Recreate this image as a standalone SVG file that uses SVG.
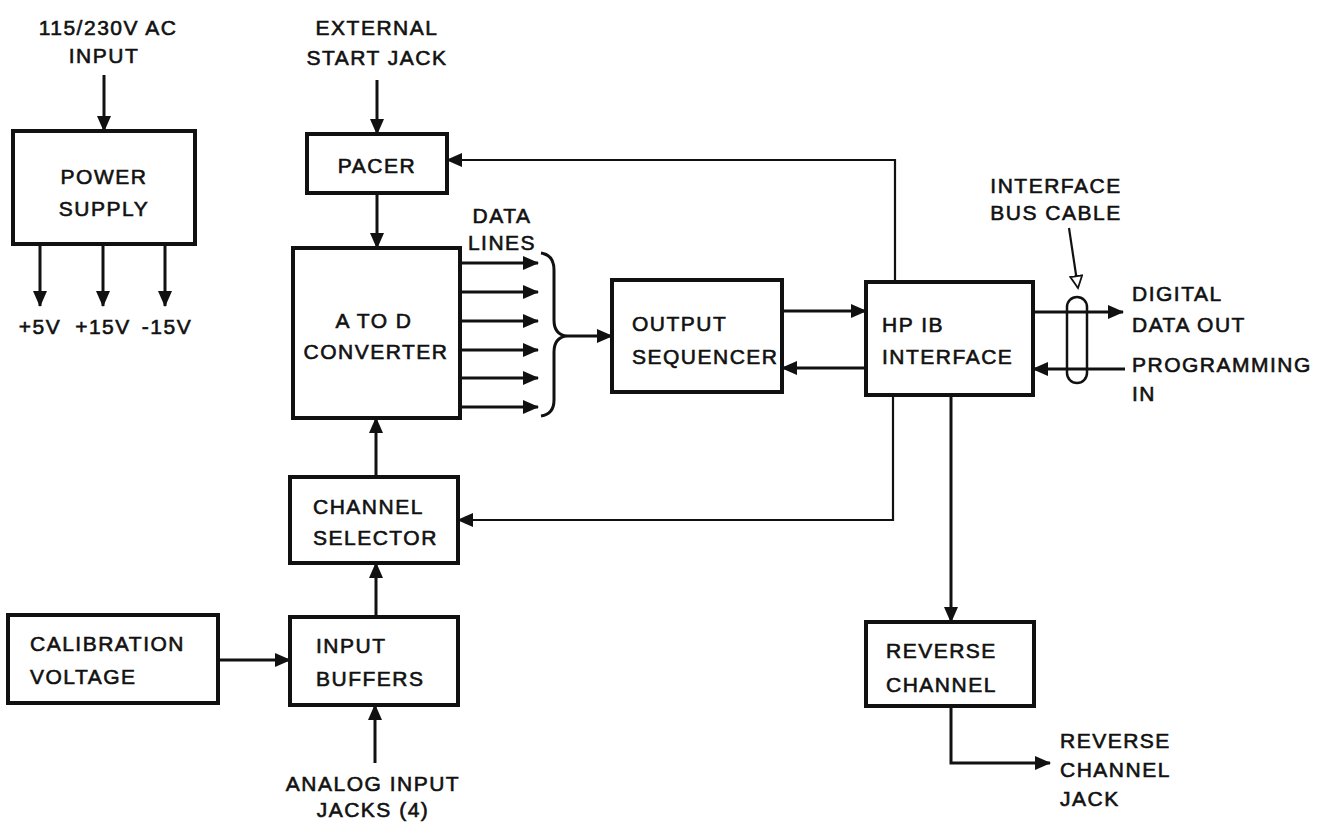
<svg xmlns="http://www.w3.org/2000/svg" width="1341" height="829" viewBox="0 0 1341 829">
<defs>
<marker id="ah" markerUnits="userSpaceOnUse" markerWidth="18" markerHeight="16" refX="15" refY="8" orient="auto">
<path d="M0,1 L16,8 L0,15 Z" fill="#111"/>
</marker>
<marker id="hollow" markerUnits="userSpaceOnUse" markerWidth="16" markerHeight="14" refX="13" refY="7" orient="auto">
<path d="M1,1 L13,7 L1,13 Z" fill="#fff" stroke="#111" stroke-width="1.8"/>
</marker>
<style>
rect.box{fill:#fff;stroke:#111;stroke-width:4}
text{font-family:"Liberation Sans",Arial,sans-serif;font-size:21px;fill:#111;stroke:#111;stroke-width:0.6px;letter-spacing:1.5px}
.c{text-anchor:middle}
.conn line,.conn path,.conn polyline{fill:none;stroke:#111;stroke-width:3}
.thin{stroke-width:2.2 !important}
</style>
</defs>
<rect width="1341" height="829" fill="#fff"/>
<g class="conn">
<line x1="104" y1="75" x2="104" y2="131" marker-end="url(#ah)"/>
<line x1="40" y1="244" x2="40" y2="306" marker-end="url(#ah)"/>
<line x1="103" y1="244" x2="103" y2="306" marker-end="url(#ah)"/>
<line x1="165" y1="244" x2="165" y2="306" marker-end="url(#ah)"/>
<line x1="377" y1="80" x2="377" y2="134" marker-end="url(#ah)"/>
<line x1="377" y1="193" x2="377" y2="248" marker-end="url(#ah)"/>
<polyline class="thin" points="895,282 895,160 447,160" marker-end="url(#ah)"/>
<line x1="460" y1="263" x2="538" y2="263" marker-end="url(#ah)"/>
<line x1="460" y1="292" x2="538" y2="292" marker-end="url(#ah)"/>
<line x1="460" y1="321" x2="538" y2="321" marker-end="url(#ah)"/>
<line x1="460" y1="350" x2="538" y2="350" marker-end="url(#ah)"/>
<line x1="460" y1="378" x2="538" y2="378" marker-end="url(#ah)"/>
<line x1="460" y1="407" x2="538" y2="407" marker-end="url(#ah)"/>
<path d="M541,253 Q554,255 554,270 L554,320 Q554,334 566,336 Q554,338 554,352 L554,400 Q554,414 541,416"/>
<line x1="566" y1="336" x2="612" y2="336" marker-end="url(#ah)"/>
<line x1="782" y1="311" x2="866" y2="311" marker-end="url(#ah)"/>
<line x1="866" y1="368" x2="782" y2="368" marker-end="url(#ah)"/>
<line x1="1033" y1="312" x2="1123" y2="312" marker-end="url(#ah)"/>
<line x1="1125" y1="369" x2="1033" y2="369" marker-end="url(#ah)"/>
<line class="thin" x1="1069" y1="228" x2="1078" y2="288" marker-end="url(#hollow)"/>
<polyline class="thin" points="893,395 893,520 458,520" marker-end="url(#ah)"/>
<line x1="951" y1="395" x2="951" y2="622" marker-end="url(#ah)"/>
<polyline points="951,706 951,763 1050,763" marker-end="url(#ah)"/>
<line x1="376" y1="477" x2="376" y2="418" marker-end="url(#ah)"/>
<line x1="376" y1="617" x2="376" y2="563" marker-end="url(#ah)"/>
<line x1="218" y1="660" x2="290" y2="660" marker-end="url(#ah)"/>
<line x1="375" y1="763" x2="375" y2="705" marker-end="url(#ah)"/>
</g>
<rect x="1067" y="297" width="20" height="86" rx="10" fill="none" stroke="#111" stroke-width="2.5"/>
<g id="power-supply"><rect class="box" x="13" y="131" width="182" height="113"/><text class="c" x="104" y="184">POWER</text><text class="c" x="104" y="216">SUPPLY</text></g>
<g id="pacer"><rect class="box" x="307" y="134" width="140" height="59"/><text class="c" x="377" y="173">PACER</text></g>
<g id="atod"><rect class="box" x="293" y="248" width="167" height="170"/><text class="c" x="374" y="328">A TO D</text><text class="c" x="376" y="359">CONVERTER</text></g>
<g id="output-sequencer"><rect class="box" x="612" y="280" width="170" height="112"/><text x="632" y="331">OUTPUT</text><text x="632" y="364">SEQUENCER</text></g>
<g id="hpib"><rect class="box" x="866" y="282" width="167" height="113"/><text x="882" y="332">HP IB</text><text x="882" y="364">INTERFACE</text></g>
<g id="channel-selector"><rect class="box" x="290" y="477" width="168" height="86"/><text x="313" y="514">CHANNEL</text><text x="313" y="545">SELECTOR</text></g>
<g id="input-buffers"><rect class="box" x="290" y="617" width="168" height="88"/><text x="316" y="653">INPUT</text><text x="316" y="686">BUFFERS</text></g>
<g id="calibration-voltage"><rect class="box" x="8" y="615" width="210" height="88"/><text x="30" y="651">CALIBRATION</text><text x="30" y="684">VOLTAGE</text></g>
<g id="reverse-channel"><rect class="box" x="866" y="622" width="168" height="84"/><text x="886" y="658">REVERSE</text><text x="886" y="692">CHANNEL</text></g>
<g id="labels">
<text class="c" x="108" y="35">115/230V AC</text>
<text class="c" x="104" y="63">INPUT</text>
<text class="c" x="377" y="35">EXTERNAL</text>
<text class="c" x="377" y="65">START JACK</text>
<text class="c" x="40" y="334">+5V</text>
<text class="c" x="103" y="334">+15V</text>
<text class="c" x="167" y="334">-15V</text>
<text class="c" x="502" y="223">DATA</text>
<text class="c" x="502" y="250">LINES</text>
<text class="c" x="1056" y="193">INTERFACE</text>
<text class="c" x="1056" y="220">BUS CABLE</text>
<text x="1132" y="301">DIGITAL</text>
<text x="1132" y="332">DATA OUT</text>
<text x="1132" y="372">PROGRAMMING</text>
<text x="1132" y="401">IN</text>
<text x="1060" y="748">REVERSE</text>
<text x="1060" y="777">CHANNEL</text>
<text x="1060" y="806">JACK</text>
<text class="c" x="373" y="791">ANALOG INPUT</text>
<text class="c" x="373" y="817">JACKS (4)</text>
</g>
</svg>
